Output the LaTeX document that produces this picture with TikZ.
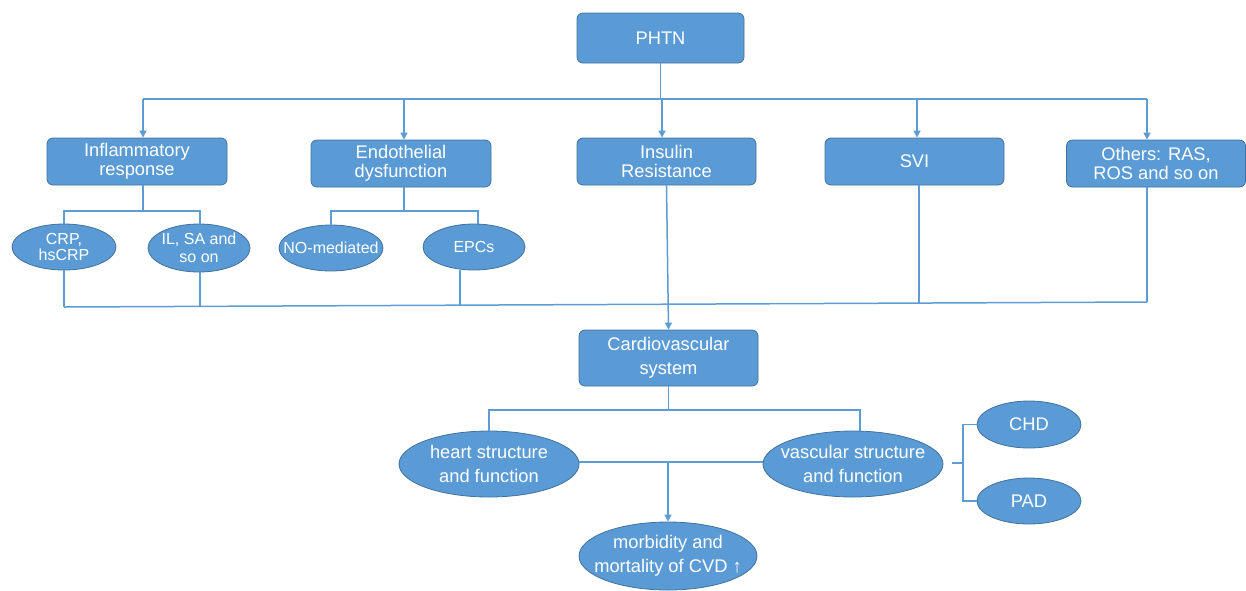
\documentclass[tikz,border=0pt]{standalone}
\usepackage{fontspec}
\setmainfont{Liberation Sans}
\usetikzlibrary{arrows.meta,shapes.geometric}
\definecolor{fillb}{HTML}{5B9BD5}
\definecolor{edgeb}{HTML}{41719C}
\definecolor{lineb}{HTML}{5E9CD6}
\begin{document}
\begin{tikzpicture}[x=1pt,y=-1pt,
  box/.style={draw=edgeb, line width=0.8pt, fill=fillb, rounded corners=6pt, text=white,
    align=center, inner sep=0pt, font=\fontsize{18.3}{19}\selectfont},
  ell/.style={draw=edgeb, line width=0.8pt, fill=fillb, ellipse, inner sep=0pt},
  etxt/.style={text=white, align=center, inner sep=0pt},
  big/.style={font=\fontsize{18.3}{24}\selectfont},
  small/.style={font=\fontsize{16}{16}\selectfont},
  ln/.style={draw=lineb, line width=1.5pt},
  arr/.style={ln, -{Triangle[length=7pt,width=7pt]}}
]
\useasboundingbox (0,0) rectangle (1246,590);

% boxes
\node[box, minimum width=167, minimum height=50] (phtn) at (660.5,38) {PHTN};
\node[box, minimum width=180, minimum height=47] (infl) at (137,161.5) {Inflammatory\\response};
\node[box, minimum width=180, minimum height=47] (endo) at (401,163.5) {Endothelial\\dysfunction};
\node[box, minimum width=179, minimum height=47] (ins) at (666.5,161.5) {Insulin\\Resistance};
\node[box, minimum width=179, minimum height=47] (svi) at (914.5,161.5) {SVI};
\node[box, minimum width=179, minimum height=47] (oth) at (1156,163.5) {Others: RAS,\\ROS and so on};
\node[box, big, minimum width=179, minimum height=56] (cardio) at (668.5,358) {Cardiovascular\\system};

% small ellipses
\node[ell, minimum width=104, minimum height=46] (crp) at (64,247) {};
\node[etxt, small] at (crp) {CRP,\\hsCRP};
\node[ell, minimum width=102, minimum height=48] (il) at (199,248) {};
\node[etxt, small, font=\fontsize{16}{18}\selectfont] at (il) {IL, SA and\\so on};
\node[ell, minimum width=104, minimum height=46] (no) at (331,248) {};
\node[etxt, small] at (no) {NO-mediated};
\node[ell, minimum width=102, minimum height=46] (epc) at (474,247) {};
\node[etxt, small] at (epc) {EPCs};

% large ellipses
\node[ell, minimum width=180, minimum height=66] (heart) at (489,464) {};
\node[etxt, big] at (heart) {heart structure\\and function};
\node[ell, minimum width=180, minimum height=66] (vasc) at (853,464) {};
\node[etxt, big] at (vasc) {vascular structure\\and function};
\node[ell, minimum width=104, minimum height=47] (chd) at (1029,424.5) {};
\node[etxt, big] at (chd) {CHD};
\node[ell, minimum width=104, minimum height=46] (pad) at (1029,501) {};
\node[etxt, big] at (pad) {PAD};
\node[ell, minimum width=178, minimum height=68] (morb) at (668,556) {};
\node[etxt, big] at (morb) {morbidity and\\mortality of CVD ↑};

% top bus
\coordinate (t0) at (660.5,99);
\coordinate (tL) at (143,99);
\coordinate (t2) at (404,99);
\coordinate (t3) at (662,99);
\coordinate (t4) at (917,99);
\coordinate (tR) at (1147,99);
\draw[ln] (phtn.south) -- (t0);
\draw[ln] (tL) -- (tR);
\draw[arr] (tL) -- (tL |- infl.north);
\draw[arr] (t2) -- (t2 |- endo.north);
\draw[arr] (t3) -- (t3 |- ins.north);
\draw[arr] (t4) -- (t4 |- svi.north);
\draw[arr] (tR) -- (tR |- oth.north);

% inflammatory branch
\coordinate (i0) at (143,211);
\coordinate (iL) at (64,211);
\coordinate (iR) at (200,211);
\draw[ln] (i0 |- infl.south) -- (i0);
\draw[ln] (crp.north) -- (iL) -- (iR) -- (iR |- il.north);

% endothelial branch
\coordinate (e0) at (404,211);
\coordinate (eL) at (331,211);
\coordinate (eR) at (478,211);
\draw[ln] (e0 |- endo.south) -- (e0);
\draw[ln] (no.north) -- (eL) -- (eR) -- (eR |- epc.north);

% bottom collector
\coordinate (bL) at (64,307);
\coordinate (b2) at (200,307);
\coordinate (b3) at (460,305.5);
\coordinate (b4) at (919,302.5);
\coordinate (bR) at (1147,302);
\draw[ln] (bL) -- (bR);
\draw[ln] (crp.south) -- (bL);
\draw[ln] (b2 |- il.south) -- (b2);
\draw[ln] (b3 |- epc.south) -- (b3);
\draw[ln] (b4 |- svi.south) -- (b4);
\draw[ln] (bR |- oth.south) -- (bR);

% insulin to cardio
\draw[arr] (ins.south) -- (cardio.north);

% cardio branch
\coordinate (c0) at (668.5,410);
\coordinate (cL) at (489,410);
\coordinate (cR) at (860,410);
\draw[ln] (cardio.south) -- (c0);
\draw[ln] (heart.north) -- (cL) -- (cR) -- (cR |- vasc.north);

% middle link and arrow
\coordinate (m0) at (668,462);
\draw[ln] (heart.east |- m0) -- (vasc.west |- m0);
\draw[arr] (m0) -- (morb.north);

% bracket
\coordinate (k0) at (952,463);
\coordinate (k1) at (963,463);
\draw[ln] (k0) -- (k1);
\draw[ln] (chd.west) -- (963,424.5) -- (963,501) -- (pad.west);
\end{tikzpicture}
\end{document}
